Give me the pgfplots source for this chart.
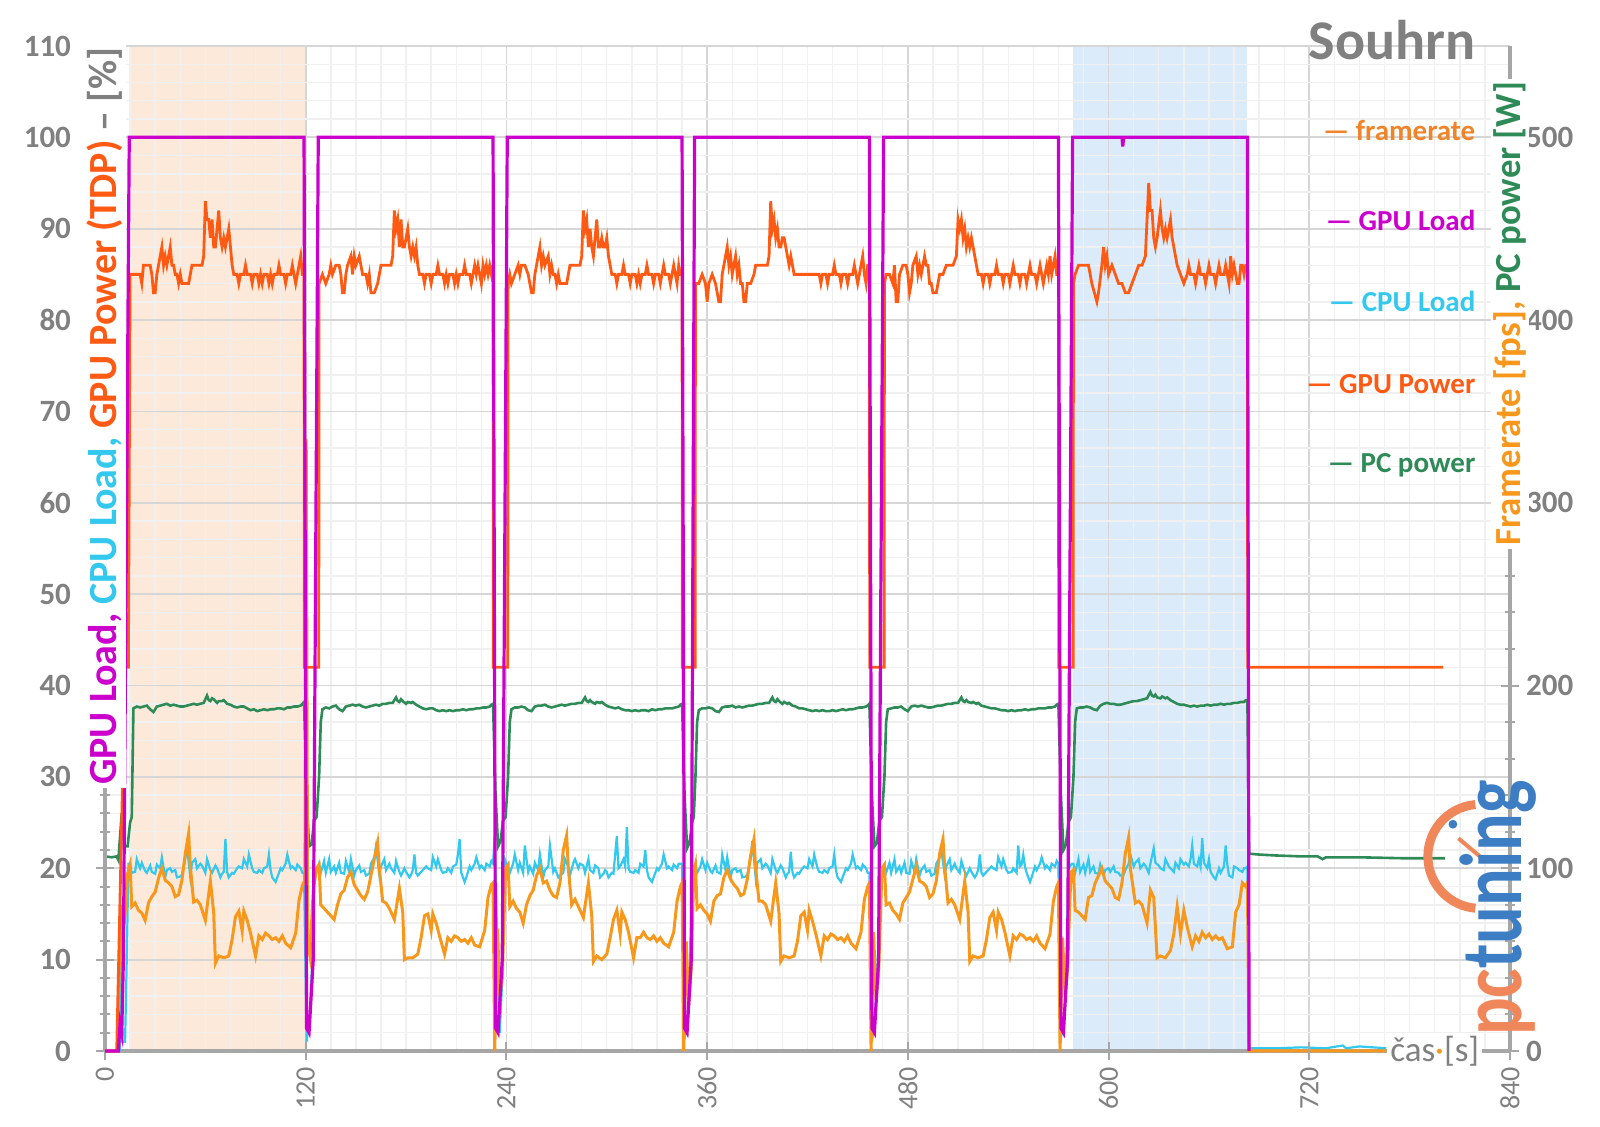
\documentclass[border=0pt]{standalone}
\usepackage{pgfplots}
\pgfplotsset{compat=1.18}
\usepackage{fontspec}
\setmainfont{Carlito}
\definecolor{txtgray}{RGB}{128,128,128}
\definecolor{axgray}{RGB}{166,166,166}
\definecolor{cFR}{RGB}{247,152,29}
\definecolor{cFRt}{RGB}{240,132,42}
\definecolor{cGL}{RGB}{204,0,204}
\definecolor{cCL}{RGB}{51,200,238}
\definecolor{cGP}{RGB}{255,90,20}
\definecolor{cPC}{RGB}{46,139,87}
\definecolor{peach}{RGB}{253,233,217}
\definecolor{lblue}{RGB}{220,235,250}
\definecolor{logoO}{RGB}{240,135,90}
\definecolor{logoB}{RGB}{60,125,196}
\pgfplotsset{
  basegeom/.style={scale only axis, width=702.5pt, height=502.5pt, xmin=0, xmax=840},
}
\begin{document}
\begin{tikzpicture}
% ---------- A: shading + grid + bottom axis line
\begin{axis}[basegeom, ymin=0, ymax=110,
  xtick={0,120,...,840}, minor x tick num=7, ytick={0,10,...,110}, minor y tick num=4,
  grid=both, major grid style={draw=gray!32, line width=0.9pt}, minor grid style={draw=gray!12, line width=0.7pt},
  axis x line*=bottom, axis y line*=left,
  x axis line style={draw=axgray, line width=2pt},
  y axis line style={draw=none},
  major tick length=0pt, minor tick length=0pt,
  xticklabels={}, yticklabels={}, axis on top]
\addplot[fill=peach, draw=none] coordinates {(15,110)(120,110)} \closedcycle;
\addplot[fill=lblue, draw=none] coordinates {(579,110)(683,110)} \closedcycle;
\end{axis}
% ---------- L1: CPU load
\begin{axis}[basegeom, ymin=0, ymax=110, hide axis]
\addplot[cCL, line width=1.1pt] coordinates {
(0,0)(9,0)(9.5,16)(10.5,1)(12,1)(13,10)(14,20.5)
(15,20.5)(16,19.5)(18,19.6)(19,21)(21,20)(22,20.6)(24,19.7)(25,19.5)(27,20.3)(28,19.6)(30,19.4)(31,20.4)(33,20)(34,21.2)(36,19)(37,19.8)(39,20)(40,19.6)(42,19.8)(43,19)(45,19.1)(46,19.3)(48,21)(49,22.5)(51,19)(52,20.6)(54,21)(55,20)(57,20.5)(58,20.3)(60,19.5)(61,21)(63,19.8)(64,19.5)(66,20.3)(67,20)(69,19)(70,19.4)(71,19.6)(72,23.2)(73,19.6)(74,19)(76,19.5)(77,19.4)(79,20)(80,20.2)(82,20)(83,21)(85,20.2)(86,21.5)(88,20)(89,19.6)(91,19.5)(92,19.8)(94,19.5)(95,20)(97,20.2)(98,21.5)(99,19.8)(100,19)(102,18.5)(103,19)(105,20)(106,19.8)(108,20.5)(109,21.5)(111,20)(112,20.2)(114,19.8)(115,20.4)(117,20)(118,19.5)(119,19.5)
(120.5,1)(122.5,4)(124,10.4)(125,20)(127,19.8)
(128,20.5)(129,19.5)(131,20.8)(132,19.5)(134,21)(135,19.6)(137,20.2)(138,19.5)(140,20.6)(141,19.5)(143,19.4)(144,20.8)(146,19.6)(147,21)(149,19.2)(150,19.8)(152,20.3)(153,19.6)(155,19.8)(156,19.2)(158,19.4)(159,20.5)(161,21.2)(162,22.4)(164,19.3)(165,20.2)(167,21)(168,19.8)(170,20.5)(171,20)(173,19.5)(174,20.8)(176,19.6)(177,19.2)(179,20)(180,19.6)(182,19)(183,19.3)(184,19.8)(185,21.5)(186,19.5)(187,19.2)(189,19.6)(190,19.8)(192,20.2)(193,20)(195,19.8)(196,21.2)(198,20.2)(199,21)(201,19.8)(202,19.5)(204,19.6)(205,20)(207,19.5)(208,20.2)(210,20.4)(211,21.5)(212,23.2)(213,19.5)(215,18.5)(216,19)(218,20.2)(219,19.8)(221,20.5)(222,21.2)(224,20)(225,20.3)(227,19.8)(228,20.5)(230,20.2)(231,20.8)(232,20.5)
(233,23.5)(234.5,12)(236,2)(237.5,8)(239,21)(240,20.5)
(241,20.2)(242,19.5)(244,20.5)(245,21.5)(247,19.8)(248,20.6)(250,19.5)(251,22.5)(253,19.6)(254,20.2)(256,19.4)(257,20.6)(259,19.8)(260,21.5)(262,19)(263,19.8)(265,20.2)(266,22.5)(268,19.6)(269,20)(271,19)(272,19.2)(274,19.5)(275,21)(277,20.2)(278,19.2)(280,20.6)(281,21)(283,20)(284,20.5)(286,20.3)(287,19.5)(289,21)(290,19.8)(292,19.5)(293,20.3)(295,20)(296,19)(298,19.4)(299,19.8)(300,19.6)(301,19)(303,19.5)(304,19.4)(305,21.5)(306,23.5)(307,20)(308,20.2)(310,21)(311,20.2)(312,24.5)(313,20)(314,19.6)(316,19.5)(317,19.8)(319,19.5)(320,20.5)(322,20.2)(323,22)(324,19.8)(325,19)(327,18.5)(328,19)(330,20)(331,19.8)(333,20.5)(334,21.5)(336,20)(337,20.2)(339,19.8)(340,20.4)(342,20)(343,20.5)(345,20.5)
(346.5,1.5)(348.5,3)(350,11)(351,20.5)(352,20)
(353,20)(354,19.5)(356,20.2)(357,21)(359,19.8)(360,20.6)(362,19.7)(363,19.5)(365,20.3)(366,19.6)(368,19.4)(369,21.5)(371,19.8)(372,21.2)(374,19)(375,19.8)(377,20)(378,19.6)(380,19.8)(381,19)(383,19.1)(384,19.3)(386,21)(387,23)(389,19)(390,20.6)(392,21)(393,20)(395,20.5)(396,20.3)(398,19.5)(399,21)(401,19.8)(402,19.5)(404,20.3)(405,20)(407,19)(408,19.4)(409,19.6)(410,21.8)(411,19.6)(412,19)(414,19.5)(415,19.4)(417,20)(418,20.2)(420,20)(421,21)(423,20.2)(424,21.5)(426,20)(427,19.6)(429,19.5)(430,19.8)(432,19.5)(433,20)(435,20.2)(436,21.5)(437,19.8)(438,19)(440,18.5)(441,19)(443,20)(444,19.8)(446,20.5)(447,21.5)(449,20)(450,20.2)(452,19.8)(453,20.4)(455,20)(456,19.5)(457,19.5)
(458.5,1)(460.5,4)(462,10)(463,19.5)(465,20)
(466,20.2)(467,19.5)(469,20.6)(470,19.5)(472,21)(473,19.6)(475,20.2)(476,19.5)(478,20.6)(479,19.5)(481,19.4)(482,20.8)(484,19.6)(485,21)(487,19.2)(488,19.8)(490,20.3)(491,19.6)(493,19.8)(494,19.2)(496,19.4)(497,20.5)(499,21.2)(500,22)(502,19.3)(503,20.2)(505,21)(506,19.8)(508,20.5)(509,20)(511,19.5)(512,20.8)(514,19.6)(515,19.2)(517,20)(518,19.6)(520,19)(521,19.3)(522,19.8)(523,21.5)(524,19.5)(525,19.2)(527,19.6)(528,19.8)(530,20.2)(531,20)(533,19.8)(534,21.2)(536,20.2)(537,21)(539,19.8)(540,19.5)(542,19.6)(543,20)(545,19.5)(546,22.5)(547,20.2)(548,20.4)(549,21.5)(550,20.2)(551,19.5)(553,18.5)(554,19)(556,20.2)(557,19.8)(559,20.5)(560,21.2)(562,20)(563,20.3)(565,19.8)(566,20.5)(568,20.2)(569,20.8)(570,20.5)
(571.5,1.5)(573.5,3)(575,12)(576,20)(578,20.5)
(579,20.5)(580,19.5)(582,21)(583,19.6)(585,20.4)(586,19.5)(588,21)(589,19.6)(591,20.2)(592,19.5)(594,19.4)(595,20.4)(597,19.2)(598,19.8)(600,20)(601,19.6)(603,20.2)(604,19.6)(606,19.5)(607,19.2)(609,19.3)(610,19.8)(612,20.5)(613,21.5)(615,20.2)(616,20.6)(618,21)(619,20)(621,20.5)(622,20.3)(624,19.5)(625,20.5)(627,22.2)(628,20.6)(630,20.3)(631,20)(633,19.8)(634,21)(636,20.2)(637,20)(639,19.6)(640,20.6)(642,20)(643,21)(645,20.4)(646,20.6)(648,20.2)(649,21)(650,22.5)(651,20.5)(653,20.2)(654,21)(655,20.2)(656,23.3)(657,20.6)(659,20)(660,21)(661,19.6)(663,19)(664,18.8)(666,20)(667,19.5)(669,20.2)(670,22.5)(671,20.4)(672,19.2)(674,19)(675,20.2)(677,20)(678,19.8)(680,19.6)(681,20)(682,20)(683,20.2)
(684,0.3)(700,0.3)(715,0.4)(730,0.3)(740,0.6)(742,0.3)(750,0.5)(766,0.3)
};
\end{axis}
% ---------- R: right axis (framerate, PC power)
\begin{axis}[basegeom, ymin=0, ymax=550, clip=false,
  axis x line=none, axis y line*=right,
  ytick={0,100,...,500}, minor y tick num=4,
  axis line style={draw=axgray, line width=2pt},
  tick align=center, major tick length=9pt, minor tick length=5pt,
  every tick/.style={axgray, line width=1pt},
  /pgf/number format/assume math mode=true,
  yticklabel style={font=\fontsize{15.5}{16}\selectfont\bfseries, text=txtgray}]
\addplot[cPC, line width=1.3pt] coordinates {
(0,106.5)(4,106)(7,106.5)(8,104.5)(10,130)(11.5,112)(13.5,112)(15,125)(16,128)
(17,187.5)(19,188.5)(21,188)(23,188.5)(25,189)(27,187)(29,185.5)(31,188.5)(33,189)(35,189.5)(37,190)(39,189)(41,189.5)(43,189)(45,188.5)(47,188.5)(49,189)(51,189.5)(53,190)(55,189.5)(57,190)(59,190.5)(61,194.5)(62,192)(63,191.5)(64,193)(65,192.5)(67,190.5)(68,191.5)(70,191.5)(71,192)(73,190)(75,189.5)(77,188.5)(79,188)(81,188.5)(83,188.5)(85,187.5)(87,186.5)(89,187)(91,186)(93,186.5)(95,187)(97,186.5)(99,187)(101,187)(103,187.5)(105,187.5)(107,187)(109,188)(111,188)(113,188.5)(115,188.5)(117,189)(118,190)(119,191)
(120.5,140)(122,112)(123.5,113)(125,126)(126.5,128)(128,150)(129,180)
(130,187)(132,188)(134,187.5)(136,188.5)(138,189)(140,187)(142,186)(144,188.5)(146,189)(148,189.5)(150,189)(152,189.5)(154,188.5)(156,188)(158,188.5)(160,189)(162,189.5)(164,189)(166,190)(168,190)(170,190.5)(172,190.5)(174,193.5)(175,191.5)(176,191)(177,192.5)(178,191.5)(180,190)(181,191)(183,190.5)(184,191)(186,189.5)(188,188.5)(190,187.5)(192,187)(194,187.5)(196,187.5)(198,186.5)(200,186)(202,186.5)(204,186)(206,186.5)(208,186)(210,186.5)(212,186.5)(214,187)(216,186.5)(218,187)(220,187)(222,187.5)(224,187.5)(226,188)(228,188)(230,188.5)(231,189.5)(232,190)
(233.5,140)(235,112)(236.5,115)(238,126)(239.5,128)(241,150)(242,180)
(243,187)(245,188)(247,188)(249,188.5)(251,188)(253,186.5)(255,186)(257,188.5)(259,189)(261,189)(263,189.5)(265,188.5)(267,188)(269,188.5)(271,189)(273,189.5)(275,189)(277,189.5)(279,190)(281,190)(283,190.5)(285,190.5)(287,193.5)(288,191.5)(289,191)(290,192)(291,191)(293,190)(294,191)(296,190.5)(297,191)(299,189.5)(301,188.5)(303,188)(305,187.5)(307,188)(309,187)(311,186.5)(313,186.5)(315,186)(317,186.5)(319,186)(321,186.5)(323,186.5)(325,186)(327,187)(329,186.5)(331,187)(333,187)(335,187.5)(337,187.5)(339,187.5)(341,188)(343,188.5)(344,189.5)(345,190)
(346.5,140)(348,111)(349.5,114)(351,125)(352,128)(353,150)(354,180)
(355,186.5)(357,187.5)(359,187.5)(361,188)(363,187.5)(365,186)(367,185.5)(369,188)(371,188.5)(373,188.5)(375,189)(377,188)(379,188.5)(381,188)(383,188.5)(385,189)(387,189)(389,189.5)(391,190)(393,190)(395,190.5)(397,190.5)(399,193.5)(400,191.5)(401,191)(402,192.5)(403,191.5)(405,190)(406,191)(408,190)(409,190.5)(411,189)(413,188.5)(415,187.5)(417,187.5)(419,187)(421,186.5)(423,186)(425,186.5)(427,186)(429,186.5)(431,186)(433,186)(435,186.5)(437,186)(439,186.5)(441,187)(443,186.5)(445,187)(447,187)(449,187.5)(451,188)(453,188)(455,188.5)(456,189)(457,190)
(458.5,140)(460,112)(461.5,114)(463,126)(464.5,128)(466,150)(467,180)
(468,187)(470,187.5)(472,188)(474,188)(476,188.5)(478,187)(480,186)(482,188.5)(484,189)(486,188.5)(488,189)(490,188.5)(492,188)(494,188)(496,188.5)(498,189)(500,189)(502,189.5)(504,190)(506,190)(508,190.5)(510,190.5)(512,193.5)(513,191.5)(514,191)(515,192)(516,191)(518,190.5)(519,191)(521,190)(522,190.5)(524,189)(526,188.5)(528,188)(530,187.5)(532,187.5)(534,187)(536,186.5)(538,186.5)(540,186)(542,186.5)(544,186)(546,186.5)(548,186.5)(550,187)(552,186.5)(554,187)(556,187)(558,187.5)(560,187.5)(562,187.5)(564,188)(566,188)(568,188.5)(569,189.5)(570,190)
(571.5,140)(573,110)(574.5,113)(576,125)(577.5,128)(579,150)(580,180)
(581,187.5)(583,188)(585,188)(587,188.5)(589,188)(591,187)(593,186.5)(595,189)(597,190)(599,190.5)(601,190)(603,190)(605,189.5)(607,189.5)(609,190)(611,190.5)(613,191)(615,191.5)(617,191.5)(619,192)(621,192.5)(623,193)(625,196.5)(626,194.5)(627,194)(628,195)(629,193.5)(631,193)(632,194)(634,193)(635,193.5)(637,192)(639,191)(641,190)(643,189.5)(645,189.5)(647,189)(649,188.5)(651,189)(653,188.5)(655,189)(657,189)(659,189.5)(661,189)(663,189.5)(665,189.5)(667,190)(669,189.5)(671,190)(673,190)(675,190.5)(677,190.5)(679,191)(681,191)(682,192)(683,192)
(684,108)(690,107.5)(700,107)(715,106.5)(725,106.5)(728,105)(730,106)(750,106)(775,105.5)(801,105.5)
};
\addplot[cFR, line width=1.5pt] coordinates {
(0,0)(7.5,0)(9,68)(10.5,61)(12,75)(13.5,97)
(15,102)(16,79)(18,81)(20,77)(22,75.5)(24,71.5)(26,81)(28,84.5)(30,87)(32,94.5)(34,100)(36,93.5)(38,92)(40,90)(42,84.5)(44,85.5)(46,93.5)(48,108)(50,119)(51,101)(53,81.5)(55,82.5)(57,80)(60,71.5)(63,93)(65,75.5)(66,48)(68,52)(71,51)(74,52)(76,61)(78,73.5)(80,76.5)(82,65.5)(83,76.5)(85,71.5)(87,64.5)(90,52)(92,63)(94,61)(96,64.5)(98,63)(100,61)(102,62)(104,60)(106,63)(108,59)(111,56.5)(114,64.5)(116,82.5)(118,90.5)(119,92.5)
(119.5,92)(120.3,335)(121.2,59)(122.5,52)(124.5,88)(126.5,100)
(128,102)(129,80)(131,78)(133,76)(135,74)(137,72)(139,80)(141,86)(143,88)(145,95)(147,98)(149,91)(151,88)(153,85)(155,83)(157,87)(159,96)(161,105)(163,114)(164,100)(166,82)(168,81)(170,78)(173,72)(176,89)(178,76)(179,50)(181,51)(184,51)(187,53)(189,62)(191,74)(193,75)(195,66)(196,75)(198,70)(200,63)(203,53)(205,62)(207,60)(209,63)(211,62)(213,60)(215,61)(217,59)(219,62)(221,58)(224,57)(227,66)(229,84)(231,91)(232,92)
(233,0)(234.7,67)(236,30)(237.5,40)(239.5,100)
(241,102)(242,79)(244,82)(246,78)(248,76)(250,70)(252,80)(254,85)(256,88)(258,96)(260,100)(262,92)(264,93)(266,88)(268,85)(270,84)(272,92)(274,110)(276,118)(277,100)(279,80)(281,83)(283,79)(286,73)(289,92)(291,74)(292,49)(294,52)(297,50)(300,53)(302,62)(304,72)(306,77)(308,64)(309,76)(311,72)(313,65)(316,51)(318,62)(320,62)(322,65)(324,62)(326,61)(328,63)(330,60)(332,62)(334,59)(337,57)(340,65)(342,82)(344,90)(345,92)
(346,0)(347.5,60)(349,25)(350.5,45)(352,98)
(353,102)(354,78)(356,80)(358,77)(360,75)(362,71)(364,82)(366,85)(368,86)(370,95)(372,99)(374,94)(376,91)(378,89)(380,85)(382,86)(384,94)(386,107)(388,116)(389,100)(391,82)(393,82)(395,80)(398,71)(401,92)(403,75)(404,49)(406,52)(409,51)(412,52)(414,60)(416,74)(418,76)(420,66)(421,77)(423,71)(425,64)(428,52)(430,63)(432,61)(434,64)(436,63)(438,61)(440,62)(442,60)(444,63)(446,59)(449,56)(452,65)(454,83)(456,90)(457,92)
(458,0)(459.5,65)(461,28)(462.5,42)(464.5,100)
(466,102)(467,80)(469,81)(471,77)(473,75)(475,72)(477,81)(479,84)(481,87)(483,94)(485,101)(487,93)(489,92)(491,90)(493,84)(495,86)(497,93)(499,108)(501,116)(502,101)(504,81)(506,83)(508,80)(511,72)(514,93)(516,76)(517,49)(519,52)(522,51)(525,52)(527,61)(529,73)(531,76)(533,66)(534,76)(536,72)(538,65)(541,52)(543,63)(545,61)(547,64)(549,63)(551,61)(553,62)(555,60)(557,63)(559,59)(562,56)(565,64)(567,82)(569,90)(570,92)
(571,0)(572.5,62)(574,30)(575.5,45)(577.5,98)
(579,99)(580,77)(582,76)(584,74)(586,72)(588,84)(590,85)(592,92)(594,96)(596,100)(598,93)(600,91)(602,89)(604,84)(606,83)(608,92)(610,108)(612,117)(613,100)(616,81)(618,82)(620,80)(623,70)(625,88)(627,84)(629,51)(631,52)(634,51)(637,55)(639,64)(641,79)(643,64)(645,77)(647,68)(650,57)(652,63)(654,60)(656,65)(658,62)(660,64)(662,61)(664,63)(666,61)(668,62)(671,56)(674,57)(676,76)(678,80)(680,92)(682,90)(683,92)
(684,0)(766,0)
};
\end{axis}
% ---------- L2: left axis (GPU power, GPU load), labels
\begin{axis}[name=L2, basegeom, ymin=0, ymax=110, clip=false,
  axis x line*=bottom, axis y line*=left,
  xtick={0,120,...,840}, ytick={0,10,...,110}, minor y tick num=4,
  axis line style={draw=axgray, line width=2pt},
  x axis line style={draw=none},
  tick align=center, major tick length=9pt, minor tick length=5pt,
  every tick/.style={axgray, line width=1pt},
  /pgf/number format/assume math mode=true,
  yticklabel style={font=\fontsize{15.5}{16}\selectfont\bfseries, text=txtgray, xshift=-9pt},
  xticklabel style={font=\fontsize{14}{15}\selectfont, text=txtgray, rotate=90, anchor=east}]
\addplot[cGP, line width=1.4pt] coordinates {
(0,0)(7,0)(12,42)(14,42)
(15,85)(17,85)(19,85)(21,85)(22,84)(23,86)(25,86)(27,86)(28,85)(29,83)(30,83)(31,85)(32,86)(34,88)(35,86)(36,87)(37,86)(39,88)(40,86)(41,86)(42,85)(43,85)(44,84)(45,85)(46,84)(48,84)(50,84)(51,85)(52,86)(54,86)(56,86)(58,86)(59,87)(60,93)(61,91)(62,91)(63,89)(64,91)(65,88)(66,88)(67,90)(68,92)(69,89)(70,88)(71,89)(72,88)(73,89)(74,90)(75,88)
(76,86)(77,85)(79,85)(80,84)(81,85)(83,85)(84,86)(85,85)(87,85)(88,84)(89,85)(91,85)(92,84)(93,85)(94,84)(95,85)(97,85)(98,84)(99,85)(100,84)(101,85)(103,85)(104,86)(105,85)(107,85)(108,84)(109,85)(111,85)(112,86)(113,85)(114,84)(115,85)(116,86)(117,87)(118,85)(119,85)
(119.2,42)(127.8,42)
(128,84)(130,85)(132,84)(134,85)(135,86)(136,85)(138,86)(140,86)(141,85)(142,83)(143,83)(144,85)(145,86)(147,87)(148,85)(149,87)(150,86)(152,87)(153,86)(154,85)(155,85)(156,85)(157,84)(158,85)(159,83)(161,83)(163,84)(164,85)(165,86)(167,86)(169,86)(171,86)(172,87)(173,92)(174,90)(175,91)(176,88)(177,91)(178,88)(179,88)(180,89)(181,90)(182,88)(183,87)(184,88)(185,87)(186,88)
(187,86)(188,85)(190,85)(191,84)(192,85)(194,85)(195,84)(196,85)(198,85)(199,86)(200,85)(202,85)(203,84)(204,85)(205,84)(206,85)(208,85)(209,84)(210,85)(211,84)(212,85)(214,85)(215,86)(216,85)(218,85)(219,84)(220,85)(221,86)(222,85)(223,86)(224,85)(225,84)(226,86)(227,85)(228,86)(229,85)(230,86)(231,85)(232,86)
(232.2,42)(240.8,42)
(241,84)(242,85)(243,84)(245,85)(247,86)(248,85)(249,86)(251,86)(253,85)(254,84)(255,83)(256,83)(257,85)(258,86)(260,88)(261,86)(262,87)(263,86)(265,87)(266,85)(267,86)(268,85)(269,85)(270,84)(271,85)(272,84)(274,84)(276,84)(277,85)(278,86)(280,86)(282,86)(284,86)(285,87)(286,92)(287,90)(288,91)(289,88)(290,90)(291,88)(292,87)(293,89)(294,91)(295,88)(296,88)(297,89)(298,88)(299,88)(300,89)(301,87)
(302,86)(303,85)(305,85)(306,84)(307,85)(309,85)(310,86)(311,85)(313,85)(314,84)(315,85)(317,85)(318,84)(319,85)(320,84)(321,85)(323,85)(324,86)(325,85)(327,85)(328,84)(329,85)(331,85)(332,84)(333,85)(334,86)(335,85)(337,85)(338,84)(339,85)(340,86)(341,85)(342,84)(343,86)(344,85)(345,85)
(345.2,42)(352.8,42)
(353,84)(355,84)(357,85)(359,84)(360,82)(361,84)(363,85)(365,84)(366,83)(367,82)(368,82)(369,85)(370,86)(372,88)(373,86)(374,87)(375,85)(377,87)(378,85)(379,86)(380,84)(381,84)(382,82)(383,82)(384,84)(386,84)(388,85)(389,86)(390,86)(392,86)(394,86)(396,86)(397,87)(398,93)(399,90)(400,91)(401,89)(402,90)(403,88)(404,88)(405,89)(406,89)(407,88)(408,87)(409,86)(410,87)(411,86)
(412,85)(415,85)(419,85)(423,85)(427,85)(428,84)(429,85)(431,85)(432,84)(433,85)(435,85)(436,86)(437,85)(439,85)(440,84)(441,85)(443,85)(444,84)(445,85)(447,85)(448,86)(449,85)(450,84)(451,85)(452,86)(453,87)(454,85)(455,84)(456,86)(457,86)
(457.2,42)(465.8,42)
(466,84)(467,85)(469,85)(471,84)(472,86)(473,82)(474,82)(475,85)(477,86)(479,86)(480,85)(481,83)(482,84)(483,86)(485,87)(486,85)(487,86)(488,85)(490,87)(491,86)(492,86)(493,84)(494,84)(495,83)(497,83)(499,85)(501,85)(503,86)(505,86)(507,86)(509,87)(510,91)(511,90)(512,91)(513,89)(514,90)(515,88)(516,89)(517,88)(518,89)(519,88)(520,87)
(521,86)(522,85)(524,85)(525,84)(526,85)(528,85)(529,84)(530,85)(532,85)(533,86)(534,85)(536,85)(537,84)(538,85)(540,85)(541,84)(542,85)(543,86)(544,85)(546,85)(547,84)(548,85)(550,85)(551,84)(552,85)(553,86)(554,85)(556,85)(557,84)(558,85)(559,86)(560,85)(561,84)(562,85)(563,86)(564,85)(565,87)(566,85)(567,86)(568,87)(569,85)(570,85)
(570.2,42)(578.8,42)
(579,84)(580,85)(582,86)(585,86)(588,86)(590,84)(593,82)(594,83)(596,86)(597,88)(598,86)(599,87)(600,85)(602,86)(604,85)(606,84)(608,84)(610,83)(612,83)(614,84)(616,85)(618,86)(620,86)(622,87)(624,95)(625,92)(626,92)(627,89)(628,88)(629,89)(631,92)(632,90)(633,89)(634,90)(635,89)(637,91)(638,89)(640,87)(641,86)
(643,85)(645,84)(647,85)(648,86)(649,85)(651,85)(652,84)(653,85)(654,86)(655,85)(657,85)(658,84)(659,85)(660,86)(661,85)(663,85)(664,84)(665,85)(666,86)(667,85)(669,85)(670,86)(671,85)(672,84)(673,87)(674,85)(675,86)(676,85)(677,84)(678,84)(679,86)(680,86)(681,85)(682,86)(683,86)
(683.2,42)(800,42)
};
\addplot[cGL, line width=1.6pt] coordinates {
(0,0)(8,0)(9,3)(10,2)(11,10)(14.5,100)(119,100)(120.5,2.5)(122,2)(124.5,10)(127.5,100)
(232,100)(233.5,2.5)(235,2)(237.5,10)(240.5,100)
(345,100)(346.5,2.5)(348,2)(350.5,10)(352.5,100)
(457,100)(458.5,2.5)(460,2)(462.5,10)(465.5,100)
(570,100)(571.5,2.5)(573,2)(575.5,10)(578.5,100)
(608,100)(608.5,99)(609,100)(683,100)(684,0)
};
% labels
\node[rotate=90, fill=white, inner sep=1.5pt, font=\fontsize{20}{20}\selectfont\bfseries] at (axis cs:0,69.5)
  {\textcolor{cGL}{GPU Load,} \textcolor{cCL}{CPU Load,} \textcolor{cGP}{GPU Power (TDP)} \textcolor{txtgray}{– [\%]}};
\node[rotate=90, fill=white, inner sep=1.5pt, font=\fontsize{18.4}{18.4}\selectfont\bfseries] at (axis cs:840,80.7)
  {\textcolor{cFR}{Framerate [fps],} \textcolor{cPC}{PC power [W]}};
\node[fill=white, inner sep=1.5pt, font=\fontsize{17.5}{17.5}\selectfont, text=txtgray] at (axis cs:795,0)
  {čas\textcolor{cFR}{·}[s]};
\node[anchor=east, font=\fontsize{28}{28}\selectfont\bfseries, text=txtgray] at (axis cs:823.5,110.6) {Souhrn};
\node[anchor=east, font=\fontsize{14.5}{15}\selectfont\bfseries, text=cFRt] at (axis cs:823.5,100.75) {— framerate};
\node[anchor=east, font=\fontsize{14.5}{15}\selectfont\bfseries, text=cGL] at (axis cs:823.5,90.9) {— GPU Load};
\node[anchor=east, font=\fontsize{14.5}{15}\selectfont\bfseries, text=cCL] at (axis cs:823.5,82.0) {— CPU Load};
\node[anchor=east, font=\fontsize{14.5}{15}\selectfont\bfseries, text=cGP] at (axis cs:823.5,73.0) {— GPU Power};
\node[anchor=east, font=\fontsize{14.5}{15}\selectfont\bfseries, text=cPC] at (axis cs:823.5,64.1) {— PC power};
% logo
\draw[logoO, line width=4.5pt] (axis cs:822,21.3) ++(95:26pt) arc[start angle=95, end angle=265, radius=26pt];
\draw[logoO, line width=2pt] (axis cs:822,21.3) -- ++(140:14pt);
\fill[logoB] (axis cs:822,21.3) ++(130:21pt) circle (2.2pt);
\node[rotate=90, font=\fontsize{44}{44}\selectfont\bfseries] at (axis cs:833,15.65)
  {\scalebox{0.8}[1]{\textcolor{logoO}{pc}\textcolor{logoB}{tuning}}};
\end{axis}
\pgfresetboundingbox
\path ([shift={(-52.5pt,-38pt)}]L2.south west) rectangle ([shift={(45pt,23pt)}]L2.north east);
\end{tikzpicture}
\end{document}
